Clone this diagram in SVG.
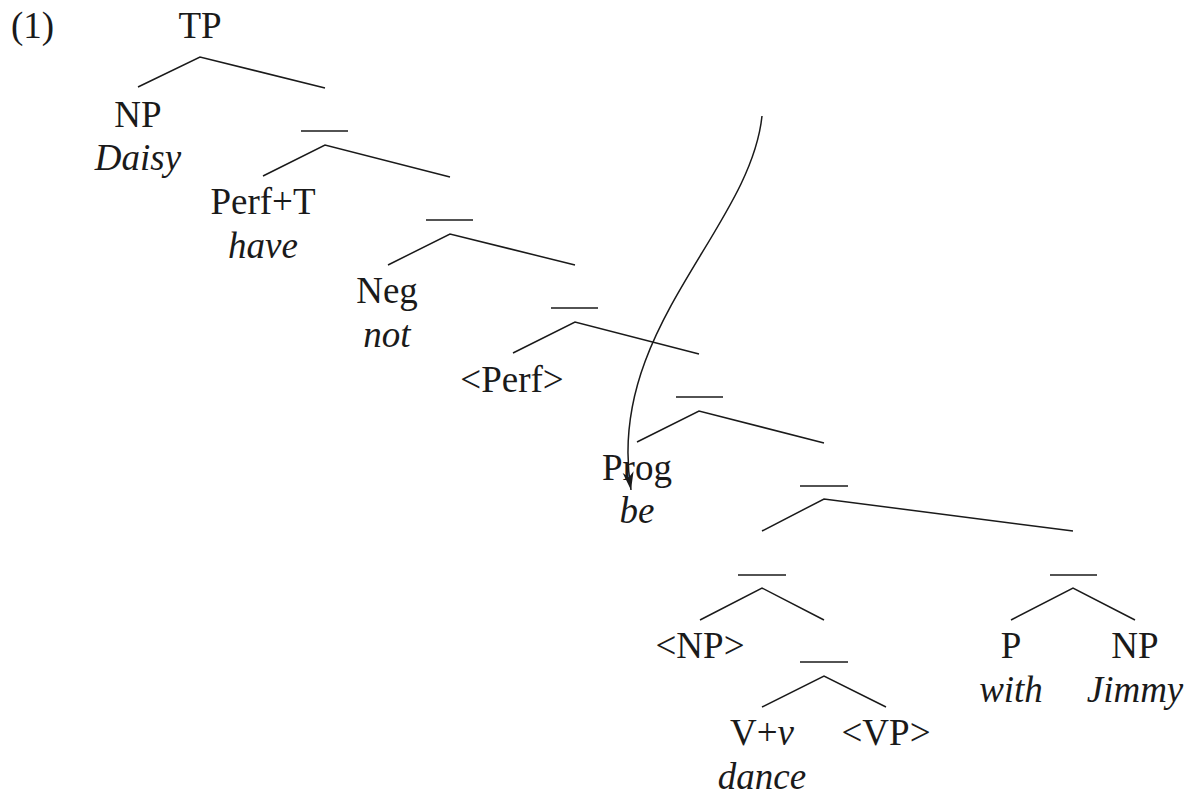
<svg xmlns="http://www.w3.org/2000/svg" width="1191" height="792" viewBox="0 0 1191 792">
<defs>
<style>
text{font-family:"Liberation Serif","Times New Roman",serif;font-size:37px;fill:#1a1a1a;text-anchor:middle}
.it{font-style:italic}
.num{text-anchor:start}
.edge{stroke:#1a1a1a;stroke-width:1.5;fill:none}
.bar{stroke:#1a1a1a;stroke-width:1.5}
.mv{stroke:#1a1a1a;stroke-width:1.5;fill:none}
</style>
<marker id="ah" viewBox="-20 -8 22 16" refX="0" refY="0" markerWidth="22" markerHeight="16" markerUnits="userSpaceOnUse" orient="auto">
<path d="M0,0 L-18,-5.5 L-13,0 L-18,5.5 Z" fill="#1a1a1a"/>
</marker>
</defs>
<rect width="1191" height="792" fill="#fff"/>
<text class="num" x="11" y="38">(1)</text>
<g id="tp"><text x="200" y="38">TP</text></g>
<g id="np-daisy"><text x="138" y="127">NP</text><text class="it" x="138" y="170">Daisy</text></g>
<g id="bar1"><line class="bar" x1="301" y1="131" x2="348" y2="131"/></g>
<g id="perf-t"><text x="263" y="214">Perf+T</text><text class="it" x="263" y="258">have</text></g>
<g id="bar2"><line class="bar" x1="426" y1="220" x2="473" y2="220"/></g>
<g id="neg"><text x="387" y="303">Neg</text><text class="it" x="387" y="347">not</text></g>
<g id="bar3"><line class="bar" x1="551" y1="308" x2="598" y2="308"/></g>
<g id="perf-trace"><text x="512" y="392">&lt;Perf&gt;</text></g>
<g id="bar4"><line class="bar" x1="676" y1="397" x2="723" y2="397"/></g>
<g id="prog"><text x="637" y="480">Prog</text><text class="it" x="637" y="523">be</text></g>
<g id="bar5"><line class="bar" x1="800" y1="486" x2="848" y2="486"/></g>
<g id="bar6"><line class="bar" x1="738" y1="575" x2="786" y2="575"/></g>
<g id="np-trace"><text x="700" y="658">&lt;NP&gt;</text></g>
<g id="bar7"><line class="bar" x1="800" y1="662" x2="848" y2="662"/></g>
<g id="vv"><text x="762" y="745">V+<tspan class="it">v</tspan></text><text class="it" x="762" y="789">dance</text></g>
<g id="vp-trace"><text x="886" y="745">&lt;VP&gt;</text></g>
<g id="bar8"><line class="bar" x1="1050" y1="575" x2="1097" y2="575"/></g>
<g id="p-with"><text x="1011" y="658">P</text><text class="it" x="1011" y="702">with</text></g>
<g id="np-jimmy"><text x="1135" y="658">NP</text><text class="it" x="1135" y="702">Jimmy</text></g>
<g id="connectors">
<path class="edge" d="M138,87 L200,57 L325,88"/>
<path class="edge" d="M263,176 L325,145 L450,177"/>
<path class="edge" d="M388,265 L450,234 L575,265"/>
<path class="edge" d="M513,353 L575,322 L699,354"/>
<path class="edge" d="M637,442 L699,411 L824,443"/>
<path class="edge" d="M762,531 L824,499 L1073,531"/>
<path class="edge" d="M700,620 L762,588 L824,620"/>
<path class="edge" d="M762,707 L824,676 L886,707"/>
<path class="edge" d="M1011,620 L1073,588 L1135,620"/>
<path class="mv" d="M762,116 C750,230 605,330 631,490" marker-end="url(#ah)"/>
</g>
</svg>
